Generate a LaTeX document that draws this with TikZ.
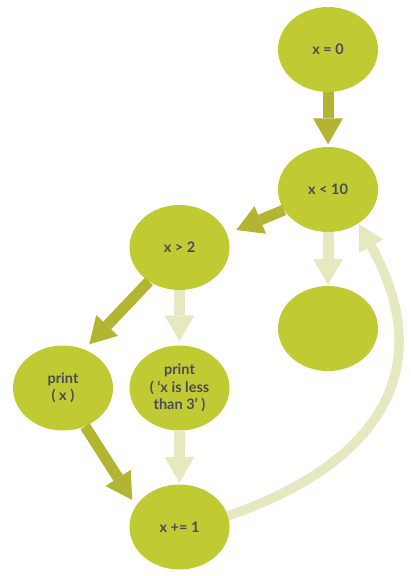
\documentclass[tikz,border=0pt]{standalone}
\usepackage{fontspec}
\setmainfont{Lato}
\usetikzlibrary{shapes.geometric,arrows.meta}
\definecolor{nodefill}{HTML}{C0CA33}
\definecolor{darkarrow}{HTML}{B3B432}
\definecolor{lightarrow}{HTML}{E6E8C0}
\definecolor{textgray}{HTML}{4A4B58}
\tikzset{
  blob/.style={ellipse, fill=nodefill, draw=none, minimum width=100pt, minimum height=85pt,
    inner sep=0pt, align=center, text=textgray, font=\bfseries\fontsize{14.5}{17.5}\selectfont},
  dkarrow/.style={draw=darkarrow, line width=11pt,
    -{Triangle[width=30pt,length=26pt,line width=0pt]}},
  ltarrow/.style={draw=lightarrow, line width=11pt,
    -{Triangle[width=30pt,length=26pt,line width=0pt]}},
  ltcurve/.style={draw=lightarrow, line width=9.5pt,
    -{Triangle[width=28pt,length=25pt,line width=0pt]}},
}
\begin{document}
\begin{tikzpicture}[x=1pt,y=-1pt]
\useasboundingbox (0,0) rectangle (411,576);
\node[blob] (start) at (328,49.5) {x = 0};
\node[blob] (cond) at (328,189.5) {x < 10};
\node[blob] (gt) at (179.5,247.5) {x > 2};
\node[blob] (stop) at (328,328.5) {};
\node[blob] (px) at (63,388) {print\\( x )};
\node[blob] (pl) at (179.5,388) {print\\( ‘x is less\\than 3’ )};
\node[blob] (inc) at (179.5,527) {x += 1};

\draw[dkarrow, shorten >=2.5pt] (start) -- (cond);
\draw[dkarrow, shorten >=10pt] (cond.205) -- (gt.16);
\draw[ltarrow, shorten >=1pt] (cond) -- (stop);
\draw[dkarrow, shorten >=7pt] (gt.-132) -- (px.61);
\draw[ltarrow, shorten >=4pt] (gt) -- (pl);
\draw[dkarrow, shorten >=7pt] (px.-60) -- (inc.154);
\draw[ltarrow, shorten >=1.5pt] (pl) -- (inc);
\draw[ltcurve, shorten >=1pt] (inc.13) .. controls +(146.6,-50.4) and +(82.6,148.6) .. (cond.-48);
\end{tikzpicture}
\end{document}
